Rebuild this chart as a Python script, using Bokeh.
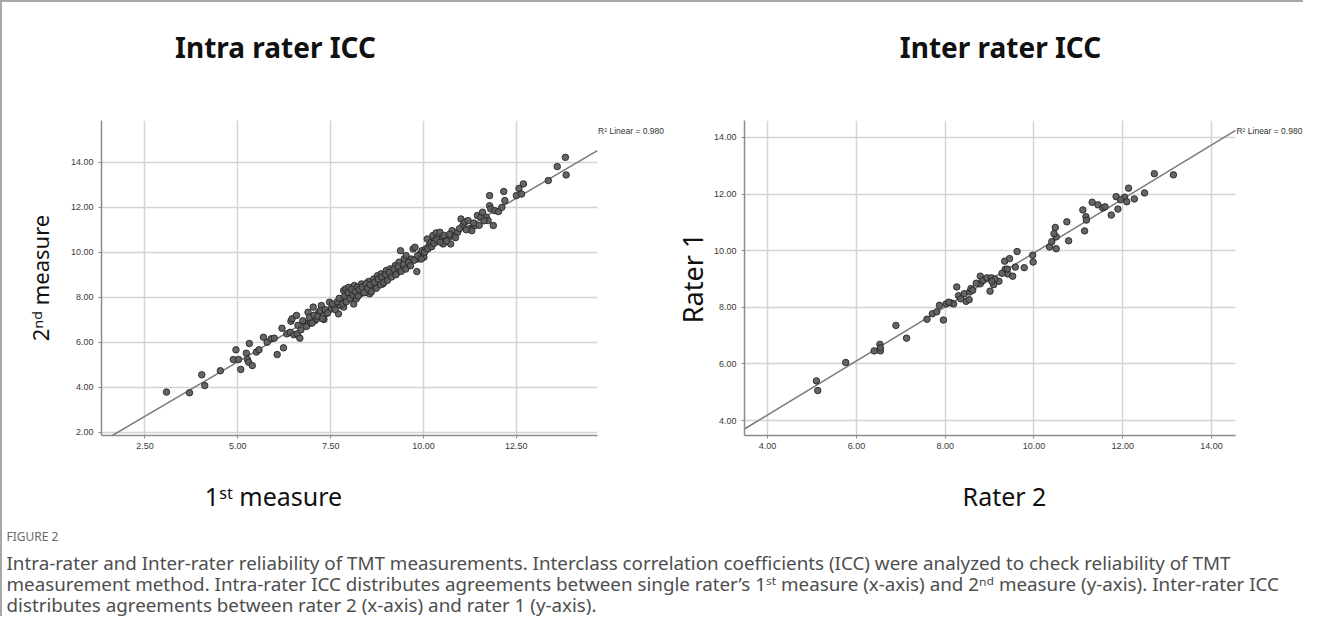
from bokeh.plotting import figure
from bokeh.models import Range1d, FixedTicker, PrintfTickFormatter, Label
from bokeh.layouts import column, row
from bokeh.embed import file_html
from bokeh.resources import INLINE

# ---------------- data ----------------
intra_first = [
    3.08, 3.70, 4.03, 4.11, 4.53, 4.88, 4.95, 5.02, 5.08, 5.23, 5.26, 5.31, 5.29, 5.39, 5.50,
    5.57, 5.69, 5.79, 5.90, 5.98, 6.06, 6.19, 6.23, 6.32, 6.43, 6.46, 6.58, 6.41, 6.51, 6.60,
    6.67, 6.80, 6.89, 6.96, 7.03, 7.08, 7.13, 7.18, 7.25, 7.32, 7.37, 7.47, 7.51, 7.59, 7.71,
    7.76, 7.80, 7.85, 7.85, 7.90, 7.94, 7.99, 8.04, 8.09, 8.12, 8.14, 8.19, 8.20, 8.26, 8.30,
    8.33, 8.38, 8.43, 8.47, 8.52, 8.55, 8.62, 8.66, 8.71, 8.76, 8.81, 8.86, 8.90, 8.95, 9.00,
    9.05, 9.10, 9.19, 9.24, 9.29, 9.34, 9.38, 9.43, 9.48, 9.53, 9.58, 9.67, 9.72, 9.77, 9.82,
    9.86, 9.91, 9.96, 10.01, 10.06, 10.10, 10.15, 10.20, 10.25, 10.30, 10.34, 10.39, 10.44, 10.49, 10.53,
    10.58, 10.68, 10.73, 10.77, 10.82, 10.92, 11.01, 11.06, 11.11, 11.20, 11.25, 11.30, 11.39, 11.45, 11.54,
    11.59, 11.69, 11.74, 11.78, 11.78, 11.81, 11.88, 11.92, 12.02, 12.11, 12.16, 12.19, 12.50, 12.57, 12.64,
    12.69, 13.36, 13.60, 13.82, 13.84,
    6.62, 6.70, 6.75, 6.85, 6.93, 7.00, 7.05, 7.15, 7.22, 7.28, 7.35, 7.42, 7.55, 7.62, 7.68,
    7.73, 7.82, 7.88, 7.92, 7.97, 8.02, 8.07, 8.10, 8.16, 8.22, 8.24, 8.28, 8.35, 8.40, 8.45,
    8.50, 8.57, 8.60, 8.68, 8.73, 8.78, 8.84, 8.88, 8.93, 8.98, 9.03, 9.08, 9.14, 9.20, 9.26,
    9.32, 9.40, 9.46, 9.52, 9.60, 9.65, 9.75, 9.84, 9.94, 10.03, 10.12, 10.22, 10.28, 10.36, 10.45,
    10.55, 10.62, 10.70, 10.86, 10.97, 11.15, 11.35, 11.50, 11.63,
]
intra_second = [
    3.78, 3.75, 4.55, 4.07, 4.73, 5.23, 5.66, 5.23, 4.79, 5.51, 5.23, 5.94, 5.11, 4.96, 5.56,
    5.66, 6.22, 6.00, 6.15, 6.18, 5.45, 6.62, 5.75, 6.37, 6.93, 7.04, 7.19, 6.44, 6.33, 6.37,
    6.18, 6.85, 7.33, 6.85, 7.56, 6.96, 7.04, 7.33, 7.63, 7.01, 7.26, 7.78, 7.48, 7.63, 7.26,
    7.63, 7.85, 7.56, 8.30, 8.37, 8.07, 8.44, 8.22, 8.00, 7.70, 8.52, 7.93, 8.30, 8.44, 8.15,
    8.59, 8.30, 8.52, 8.22, 8.70, 8.15, 8.37, 8.81, 8.52, 8.96, 8.70, 9.04, 8.59, 8.81, 9.19,
    8.96, 9.26, 9.04, 9.41, 9.11, 9.56, 10.07, 9.26, 9.70, 9.85, 9.41, 9.70, 10.15, 10.22, 9.14,
    9.70, 9.93, 10.07, 9.78, 10.15, 10.59, 10.30, 10.44, 10.74, 10.52, 10.86, 10.67, 10.89, 10.59, 10.37,
    10.67, 10.67, 10.37, 10.96, 10.74, 10.89, 11.48, 11.19, 11.33, 11.41, 11.04, 10.96, 11.19, 11.63, 11.56,
    11.78, 11.56, 11.41, 12.52, 12.07, 11.93, 11.19, 11.85, 11.81, 12.00, 12.70, 12.30, 12.52, 12.84, 12.59,
    13.04, 13.19, 13.81, 14.22, 13.44,
    6.75, 6.55, 6.95, 6.70, 7.10, 6.85, 7.20, 7.15, 7.40, 7.05, 7.45, 7.30, 7.70, 7.45, 7.80,
    7.95, 7.70, 8.05, 7.80, 8.20, 7.95, 8.35, 8.10, 8.25, 8.45, 8.05, 8.35, 8.45, 8.20, 8.60,
    8.40, 8.55, 8.25, 8.65, 8.40, 8.80, 8.55, 8.90, 8.65, 9.00, 8.75, 9.10, 8.90, 9.25, 9.00,
    9.35, 9.15, 9.45, 9.25, 9.55, 9.40, 9.65, 9.85, 9.70, 10.00, 10.15, 10.25, 10.40, 10.55, 10.45,
    10.75, 10.50, 10.80, 10.65, 11.05, 11.00, 11.30, 11.20, 11.40,
]

inter_rater2 = [
    5.10, 5.13, 5.76, 6.40, 6.53, 6.54, 6.54, 6.89, 7.13, 7.59, 7.71, 7.81, 7.87, 7.96, 8.02,
    8.14, 8.19, 8.26, 8.30, 8.43, 8.47, 8.54, 8.55, 8.58, 8.79, 8.79, 8.85, 8.94, 9.01, 9.04,
    9.09, 9.21, 9.34, 9.35, 9.41, 9.45, 9.52, 9.58, 9.62, 9.78, 9.97, 9.98, 10.35, 10.40, 10.48,
    10.50, 10.50, 10.74, 10.78, 11.10, 11.14, 11.17, 11.18, 11.31, 11.44, 11.55, 11.74, 11.85, 11.89, 12.04,
    12.09, 12.13, 12.26, 12.49, 12.71, 13.14,
    8.08, 8.35, 8.62, 8.70, 9.12, 9.28, 9.40, 9.05, 10.45, 11.60, 11.95,
]
inter_rater1 = [
    5.40, 5.06, 6.05, 6.46, 6.69, 6.46, 6.57, 7.36, 6.91, 7.58, 7.77, 7.84, 8.07, 7.55, 8.12,
    8.15, 8.12, 8.72, 8.41, 8.48, 8.21, 8.27, 8.54, 8.66, 9.10, 8.83, 8.95, 9.04, 8.57, 9.04,
    8.80, 8.92, 9.63, 9.34, 9.18, 9.72, 9.10, 9.42, 9.97, 9.40, 9.84, 9.60, 10.13, 10.32, 10.82,
    10.49, 10.07, 11.02, 10.35, 11.44, 10.70, 11.20, 11.08, 11.71, 11.62, 11.51, 11.26, 11.91, 11.47, 11.89,
    11.73, 12.21, 11.83, 12.04, 12.72, 12.68,
    8.18, 8.30, 8.60, 8.85, 9.00, 9.20, 9.35, 8.92, 10.60, 11.55, 11.80,
]

# fitted lines (intercept, slope) as drawn in the picture
intra_fit = [0.28, 0.970]
inter_fit = [0.38, 0.954]
r2_labels = ["R\u00b2 Linear = 0.980", "R\u00b2 Linear = 0.980"]

intra_xticks = [2.5, 5.0, 7.5, 10.0, 12.5]
intra_yticks = [2.0, 4.0, 6.0, 8.0, 10.0, 12.0, 14.0]
inter_xticks = [4.0, 6.0, 8.0, 10.0, 12.0, 14.0]
inter_yticks = [4.0, 6.0, 8.0, 10.0, 12.0, 14.0]

titles = ["Intra rater ICC", "Inter rater ICC"]
xlabels = ["1\u02e2\u1d57 measure", "Rater 2"]
ylabels = ["2\u207f\u1d48 measure", "Rater 1"]

caption_head = "FIGURE 2"
caption_lines = [
    "Intra-rater and Inter-rater reliability of TMT measurements. Interclass correlation coefficients (ICC) were analyzed to check reliability of TMT",
    "measurement method. Intra-rater ICC distributes agreements between single rater\u2019s 1\u02e2\u1d57 measure (x-axis) and 2\u207f\u1d48 measure (y-axis). Inter-rater ICC",
    "distributes agreements between rater 2 (x-axis) and rater 1 (y-axis).",
]

GRID = "#d4d4d4"
AXIS = "#8c8c8c"
TICKTXT = "#3a3a3a"
TOTAL_W = 1301


def strip(height):
    s = figure(width=TOTAL_W, height=height, x_range=Range1d(0, TOTAL_W), y_range=Range1d(height, 0),
               output_backend="svg", toolbar_location=None, x_axis_type=None, y_axis_type=None,
               min_border=0)
    s.outline_line_color = None
    s.xgrid.visible = False
    s.ygrid.visible = False
    s.border_fill_color = "white"
    s.background_fill_color = "white"
    return s


def panel(xs, ys, fit, xr, xend, yr, xt, yt, width, height, mbl, mbt, mbb,
          ylabel, ylsize, ylstand, r2, r2xy):
    p = figure(width=width, height=height, x_range=Range1d(*xr), y_range=Range1d(*yr),
               output_backend="svg", toolbar_location=None,
               min_border_left=mbl, min_border_right=0, min_border_top=mbt, min_border_bottom=mbb)
    p.outline_line_color = None
    p.background_fill_color = "white"
    p.border_fill_color = "white"
    p.xaxis.ticker = FixedTicker(ticks=xt)
    p.yaxis.ticker = FixedTicker(ticks=yt)
    p.xaxis.bounds = (xr[0], xend)
    for ax in (p.xaxis, p.yaxis):
        ax.formatter = PrintfTickFormatter(format="%.2f")
        ax.axis_line_color = AXIS
        ax.axis_line_width = 1.5
        ax.major_tick_line_color = AXIS
        ax.major_tick_out = 3
        ax.major_tick_in = 0
        ax.minor_tick_line_color = None
        ax.major_label_text_font = "Liberation Sans"
        ax.major_label_text_font_size = "9px"
        ax.major_label_text_color = TICKTXT
    p.xaxis.major_label_standoff = 4
    p.yaxis.major_label_standoff = 5
    for g in (p.xgrid, p.ygrid):
        g.grid_line_color = GRID
        g.grid_line_width = 1.5
    p.ygrid.cross_bounds = (xr[0], xend)

    p.yaxis.axis_label = ylabel
    p.yaxis.axis_label_text_font = "Noto Sans"
    p.yaxis.axis_label_text_font_style = "normal"
    p.yaxis.axis_label_text_font_size = ylsize
    p.yaxis.axis_label_text_color = "#111111"
    p.yaxis.axis_label_standoff = ylstand

    lx = [xr[0], xend]
    ly = [fit[0] + fit[1] * v for v in lx]
    p.line(lx, ly, line_color="#7a7a7a", line_width=1.5)
    p.scatter(xs, ys, marker="circle", size=6.5, fill_color="#5e5e5e", fill_alpha=0.95,
              line_color="#262626", line_width=0.9)

    p.add_layout(Label(x=r2xy[0], y=r2xy[1], text=r2, text_font="Liberation Sans",
                       text_font_size="8.5px", text_align="left", text_baseline="middle",
                       text_color="#333333"))
    return p


# top strip: chart titles
top = strip(100)
for t, cx in zip(titles, [273, 998]):
    top.add_layout(Label(x=cx, y=44, text=t, text_font="Noto Sans", text_font_style="bold",
                         text_font_size="28px", text_align="center", text_baseline="middle",
                         text_color="#111111"))

left = panel(intra_first, intra_second, intra_fit, (1.33, 16.65), 14.68, (1.85, 15.86),
             intra_xticks, intra_yticks, 668, 358, 99, 18, 24,
             ylabels[0], "22px", 13, r2_labels[0], (14.70, 15.40))
right = panel(inter_rater2, inter_rater1, inter_fit, (3.48, 16.07), 14.54, (3.47, 14.6),
              inter_xticks, inter_yticks, 633, 358, 70, 18, 25,
              ylabels[1], "27px", 0, r2_labels[1], (14.56, 14.22))

# bottom strip: x-axis titles and figure caption
bottom = strip(156)
for t, cx in zip(xlabels, [271, 1002]):
    bottom.add_layout(Label(x=cx, y=35, text=t, text_font="Noto Sans", text_font_size="25px",
                            text_align="center", text_baseline="middle", text_color="#111111"))
bottom.add_layout(Label(x=4, y=76, text=caption_head, text_font="Noto Sans", text_font_size="12px",
                        text_color="#6a6a6a", text_baseline="middle"))
for i, line in enumerate(caption_lines):
    bottom.add_layout(Label(x=4, y=102 + 21 * i, text=line, text_font="Noto Sans",
                            text_font_size="18.8px", text_color="#4e4e4e", text_baseline="middle"))

layout = column(top, row(left, right), bottom,
                styles={"border-top": "2px solid #a8a8a8", "border-left": "2px solid #a8a8a8"})

open("out.html", "w").write(file_html(layout, INLINE))
